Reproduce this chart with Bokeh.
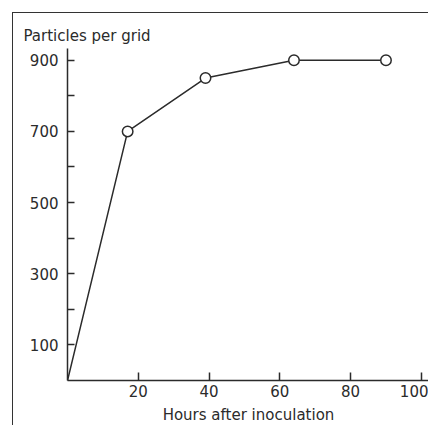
from bokeh.plotting import figure
from bokeh.models import Range1d, FixedTicker, Spacer
from bokeh.layouts import column, row
from bokeh.embed import file_html
from bokeh.resources import INLINE

# data
hours = [0, 17, 39, 64, 90]
particles = [0, 700, 850, 900, 900]
marker_hours = hours[1:]
marker_particles = particles[1:]
x_ticks = [20, 40, 60, 80, 100]
y_major = [100, 300, 500, 700, 900]
y_minor = [200, 400, 600, 800]
title_text = "Particles per grid"
x_label = "Hours after inoculation"

FONT = "DejaVu Sans"
INK = "#2b2b2b"
FS = "15px"

p = figure(width=416, height=413, output_backend="svg", toolbar_location=None,
           x_range=Range1d(0, 102.3), y_range=Range1d(0, 933),
           min_border_left=54, min_border_right=0, min_border_top=35,
           min_border_bottom=46,
           styles={"border-left": "1.5px solid #333",
                   "border-top": "1.5px solid #333"})
p.outline_line_color = None
p.xgrid.visible = False
p.ygrid.visible = False
p.background_fill_color = "white"
p.border_fill_color = "white"

p.title.text = title_text
p.title.align = "left"
p.title.offset = -44
p.title.text_font = FONT
p.title.text_font_size = FS
p.title.text_font_style = "normal"
p.title.text_color = INK
p.title.standoff = 8

for ax in (p.xaxis[0], p.yaxis[0]):
    ax.axis_line_color = INK
    ax.axis_line_width = 1.5
    ax.major_tick_line_color = INK
    ax.major_tick_line_width = 1.5
    ax.minor_tick_line_color = INK
    ax.minor_tick_line_width = 1.5
    ax.major_tick_out = 0
    ax.minor_tick_out = 0
    ax.major_label_text_font = FONT
    ax.major_label_text_font_size = FS
    ax.major_label_text_color = INK
    ax.axis_label_text_font = FONT
    ax.axis_label_text_font_size = FS
    ax.axis_label_text_font_style = "normal"
    ax.axis_label_text_color = INK

p.xaxis.ticker = FixedTicker(ticks=x_ticks)
p.xaxis.major_tick_in = 8
p.xaxis.minor_tick_in = 0
p.xaxis.major_label_standoff = 4
p.xaxis.axis_label = x_label
p.xaxis.axis_label_standoff = 6

p.yaxis.ticker = FixedTicker(ticks=y_major, minor_ticks=y_minor)
p.yaxis.major_tick_in = 7
p.yaxis.minor_tick_in = 7
p.yaxis.major_label_standoff = 9

p.line(hours, particles, line_color=INK, line_width=1.5)
p.scatter(marker_hours, marker_particles, size=10.5, fill_color="white",
          line_color=INK, line_width=1.5)

layout = column(Spacer(width=12, height=12), row(Spacer(width=12, height=12), p))

open("out.html", "w").write(file_html(layout, INLINE))
